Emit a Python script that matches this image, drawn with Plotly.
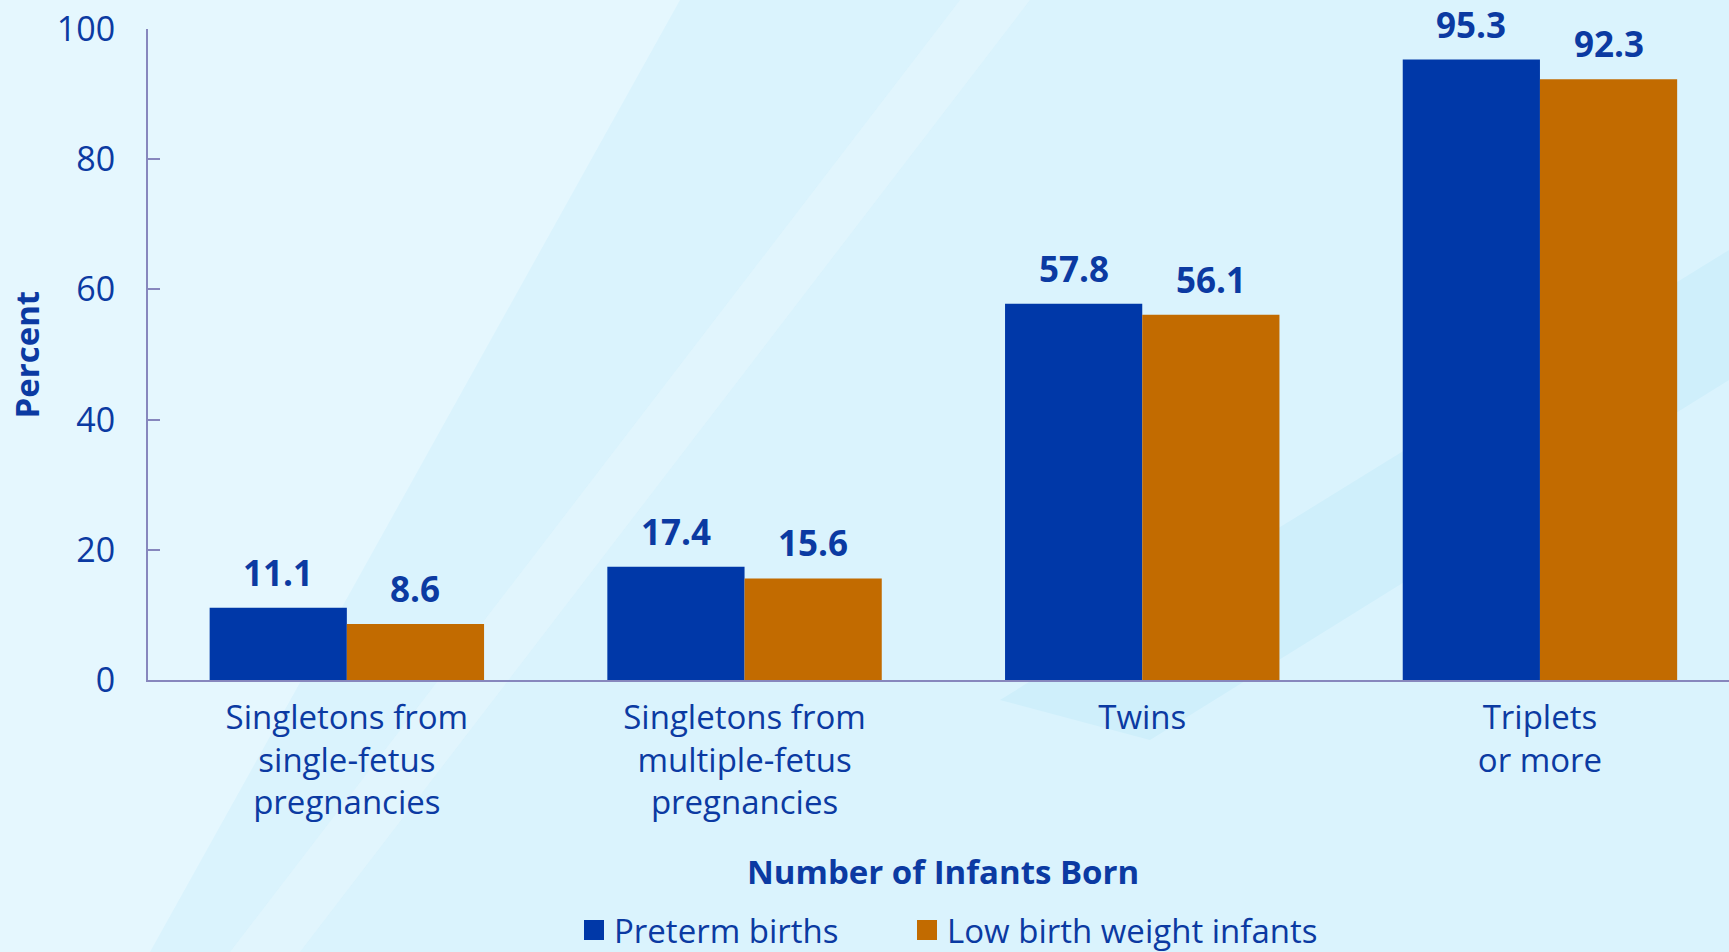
import plotly.graph_objects as go

categories = ["Singletons from<br>single-fetus<br>pregnancies",
              "Singletons from<br>multiple-fetus<br>pregnancies",
              "Twins",
              "Triplets<br>or more"]
preterm = [11.1, 17.4, 57.8, 95.3]
low_bw = [8.6, 15.6, 56.1, 92.3]
series_names = ["Preterm births", "Low birth weight infants"]
y_ticks = [0, 20, 40, 60, 80, 100]

BLUE = "#0038a8"
ORANGE = "#c26b00"
TEXT = "#0b3aa2"
AXIS = "#8787bd"
FONT = "Open Sans"

W, H = 1729, 952
ML, MT, MB, MR = 148, 29, 272, 0
PW = W - ML - MR
PH = H - MT - MB


def px(x):
    return (x - ML) / PW


def py(y):
    return (MT + PH - y) / PH


fig = go.Figure()
idx = list(range(len(categories)))
fig.add_trace(go.Bar(x=idx, y=preterm, marker=dict(color=BLUE, line=dict(width=0)),
                     showlegend=False, name=series_names[0]))
fig.add_trace(go.Bar(x=idx, y=low_bw, marker=dict(color=ORANGE, line=dict(width=0)),
                     showlegend=False, name=series_names[1]))

# legend-only entries with square swatches, each in its own legend box
for k, (nm, col) in enumerate(zip(series_names, [BLUE, ORANGE])):
    fig.add_trace(go.Scatter(x=[None], y=[None], mode="markers", name=nm,
                             legend="legend" if k == 0 else "legend2",
                             marker=dict(symbol="square", size=16, color=col,
                                         line=dict(color=col, width=4))))

bargap = 0.31
half = (1 - bargap) / 4
annotations = []
for i in idx:
    for vals, off in ((preterm, -half), (low_bw, half)):
        annotations.append(dict(x=i + off, y=vals[i], xref="x", yref="y",
                                text=f"<b>{vals[i]}</b>", showarrow=False,
                                yanchor="bottom", yshift=10,
                                font=dict(family=FONT, size=35, color=TEXT)))

annotations.append(dict(xref="paper", yref="paper", x=px(26), y=0.5,
                        xanchor="center", yanchor="middle",
                        text="<b>Percent</b>", textangle=-90, showarrow=False,
                        font=dict(family=FONT, size=33, color=TEXT)))
annotations.append(dict(xref="paper", yref="paper", x=px(943), y=py(871),
                        xanchor="center", yanchor="middle",
                        text="<b>Number of Infants Born</b>", showarrow=False,
                        font=dict(family=FONT, size=33, color=TEXT)))


def poly(pts, color):
    d = "M " + " L ".join(f"{px(x)} {py(y)}" for x, y in pts) + " Z"
    return dict(type="path", xref="paper", yref="paper", layer="below",
                path=d, fillcolor=color, line=dict(width=0))


shapes = [
    poly([(0, 0), (680, 0), (150, 952), (0, 952)], "#e5f7fe"),
    poly([(960, 0), (1030, 0), (300, 952), (230, 952)], "rgba(232,248,254,0.5)"),
    poly([(1000, 700), (1729, 250), (1729, 380), (1150, 740)], "#cfeffb"),
]

leg_font = dict(family=FONT, size=33, color=TEXT)
fig.update_layout(
    width=W, height=H,
    margin=dict(l=ML, r=MR, t=MT, b=MB, pad=0, autoexpand=False),
    paper_bgcolor="#daf3fd",
    plot_bgcolor="rgba(0,0,0,0)",
    barmode="group", bargap=bargap, bargroupgap=0,
    font=dict(family=FONT, color=TEXT, size=33),
    showlegend=True,
    legend=dict(orientation="h", x=px(574), xanchor="left",
                y=py(930), yanchor="middle", font=leg_font,
                bgcolor="rgba(0,0,0,0)"),
    legend2=dict(orientation="h", x=px(907), xanchor="left",
                 y=py(930), yanchor="middle", font=leg_font,
                 bgcolor="rgba(0,0,0,0)"),
    xaxis=dict(tickmode="array", tickvals=idx, ticktext=categories,
               range=[-0.5, -0.5 + PW / 397.7], showline=True, linecolor=AXIS,
               linewidth=2, ticks="", showgrid=False, zeroline=False,
               tickfont=dict(family=FONT, size=33, color=TEXT),
               ticklabelstandoff=7, fixedrange=True),
    yaxis=dict(range=[0, 100], tickvals=y_ticks, showline=True, linecolor=AXIS,
               linewidth=2, ticks="inside", ticklen=12, tickcolor=AXIS, tickwidth=2,
               showgrid=False, zeroline=False,
               tickfont=dict(family=FONT, size=34, color=TEXT),
               ticklabelstandoff=24),
    annotations=annotations,
    shapes=shapes,
)

fig.write_html("out.html", config={"displayModeBar": False},
               post_script="document.body.style.margin='0';")
